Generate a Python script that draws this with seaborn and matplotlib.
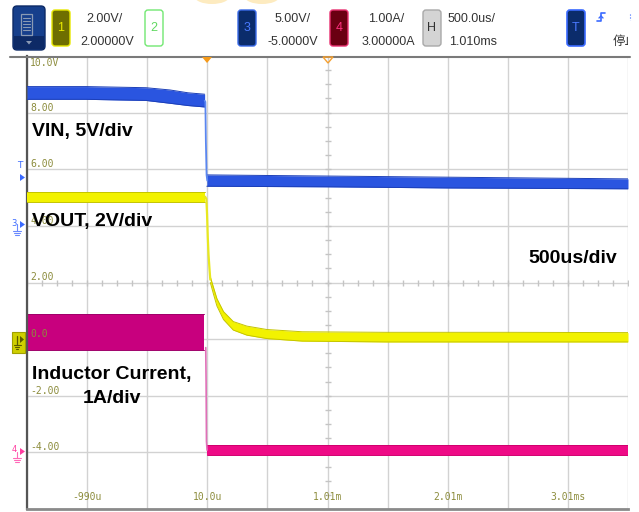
import numpy as np
import matplotlib
matplotlib.use("Agg")
import matplotlib.pyplot as plt
from matplotlib.patches import FancyBboxPatch, Rectangle, Polygon, Ellipse
import seaborn as sns

# ---------------- data (screen units = ch1 volts, time in microseconds) -------------
time_ticks_us = [-990, 10, 1010, 2010, 3010]
time_tick_labels = ["-990u", "10.0u", "1.01m", "2.01m", "3.01ms"]
level_ticks = [10, 8, 6, 4, 2, 0, -2, -4]
level_labels = ["10.0V", "8.00", "6.00", "4.00", "2.00", "0.0", "-2.00", "-4.00"]

# VIN (channel 3, blue)
vin_pre_t = [-1490, -1000, -500, -300, -150, -12]
vin_pre_hi = [8.92, 8.92, 8.88, 8.80, 8.70, 8.65]
vin_pre_lo = [8.47, 8.47, 8.43, 8.33, 8.25, 8.20]
vin_fall_t = [-12, -6, -2, 4, 10]
vin_fall_v = [8.42, 8.38, 7.0, 5.8, 5.6]
vin_post_t = [6, 500, 1000, 1500, 2000, 2500, 3000, 3510]
vin_post_hi = [5.80, 5.78, 5.76, 5.74, 5.72, 5.70, 5.68, 5.66]
vin_post_lo = [5.40, 5.39, 5.38, 5.36, 5.34, 5.33, 5.32, 5.31]

# VOUT (channel 1, yellow)
vout_pre_t = [-1490, -8]
vout_pre_hi = [5.20, 5.20]
vout_pre_lo = [4.85, 4.85]
vout_fall_t = [-8, 2, 8, 14, 20, 28, 35]
vout_fall_v = [5.03, 4.95, 4.4, 3.6, 3.0, 2.5, 2.1]
vout_post_t = [35, 62, 90, 145, 226, 339, 505, 800, 1500, 2500, 3510]
vout_post_hi = [2.20, 1.82, 1.43, 0.97, 0.62, 0.46, 0.34, 0.26, 0.24, 0.24, 0.23]
vout_post_lo = [2.00, 1.58, 1.17, 0.69, 0.32, 0.14, 0.02, -0.07, -0.10, -0.10, -0.10]

# Inductor current (channel 4, magenta)
il_pre_t = [-1490, -15]
il_pre_hi = [0.88, 0.88]
il_pre_lo = [-0.38, -0.38]
il_fall_t = [-3, 0, 3, 8]
il_fall_v = [-0.3, -1.5, -3.6, -3.92]
il_post_t = [8, 3510]
il_post_hi = [-3.75, -3.75]
il_post_lo = [-4.10, -4.10]

# ---------------- styling -------------
sns.set_theme(style="white")
plt.rcParams["font.family"] = ["Liberation Sans", "Noto Sans CJK SC", "DejaVu Sans"]

W, H = 639, 512
fig = plt.figure(figsize=(W / 100, H / 100), dpi=100)
fig.patch.set_facecolor("white")

x_left, x_right = 27, 628
y_top, y_bot = 56, 509
ax = fig.add_axes([x_left / W, 1 - y_bot / H, (x_right - x_left) / W, (y_bot - y_top) / H])
ax.set_xlim(-1490, 3510)
ax.set_ylim(-6, 10)
ax.set_facecolor("white")

ax.set_xticks(np.arange(-1490, 3511, 500))
ax.set_yticks(np.arange(-6, 10.01, 2))
ax.grid(True, color="#d2d2d2", lw=1.0)
ax.tick_params(length=0, labelbottom=False, labelleft=False)
for s in ["top", "right"]:
    ax.spines[s].set_visible(False)
ax.spines["left"].set_color("#555555")
ax.spines["left"].set_linewidth(1.6)
ax.spines["bottom"].set_color("#8a8a8a")
ax.spines["bottom"].set_linewidth(2.0)

# center graticule minor ticks
ax.plot(np.arange(-1490, 3511, 125), [2] * len(np.arange(-1490, 3511, 125)),
        ls="none", marker="|", ms=4, color="#c4c4c4", mew=1, zorder=1)
ax.plot([1010] * len(np.arange(-6, 10.01, 0.5)), np.arange(-6, 10.01, 0.5),
        ls="none", marker="_", ms=4, color="#c4c4c4", mew=1, zorder=1)

BLUE, BLUE_E, BLUE_F = "#2a55e0", "#1c3fb8", "#5a86f0"
YEL, YEL_E, YEL_F = "#f2f200", "#c4c400", "#e8e820"
MAG, MAG_E, MAG2, MAG_F = "#c8007e", "#a0006a", "#ee0a86", "#e070b8"


def band(t, hi, lo, fc, ec, z):
    ax.fill_between(t, lo, hi, color=fc, lw=0, zorder=z)
    sns.lineplot(x=t, y=hi, ax=ax, color=ec, lw=0.7, estimator=None, sort=False, zorder=z)
    sns.lineplot(x=t, y=lo, ax=ax, color=ec, lw=0.7, estimator=None, sort=False, zorder=z)


band(vin_pre_t, vin_pre_hi, vin_pre_lo, BLUE, BLUE_E, 3)
band(vin_post_t, vin_post_hi, vin_post_lo, BLUE, BLUE_E, 3)
sns.lineplot(x=vin_fall_t, y=vin_fall_v, ax=ax, color=BLUE_F, lw=1.3, estimator=None, sort=False, zorder=3)

band(vout_pre_t, vout_pre_hi, vout_pre_lo, YEL, YEL_E, 4)
band(vout_post_t, vout_post_hi, vout_post_lo, YEL, YEL_E, 4)
sns.lineplot(x=vout_fall_t, y=vout_fall_v, ax=ax, color=YEL_F, lw=1.6, estimator=None, sort=False, zorder=4)

band(il_pre_t, il_pre_hi, il_pre_lo, MAG, MAG_E, 2)
band(il_post_t, il_post_hi, il_post_lo, MAG2, "#d0006e", 2)
sns.lineplot(x=il_fall_t, y=il_fall_v, ax=ax, color=MAG_F, lw=1.2, estimator=None, sort=False, zorder=2)

# graticule labels
lab_col = "#8c8c3c"
for lv, lb in zip(level_ticks, level_labels):
    yy = 9.75 if lv == 10 else lv + 0.18
    ax.text(-1465, yy, lb, fontsize=7, color=lab_col, family="DejaVu Sans Mono",
            ha="left", va="center", zorder=6)
for tt, lb in zip(time_ticks_us, time_tick_labels):
    ax.text(tt, -5.58, lb, fontsize=7, color=lab_col, family="DejaVu Sans Mono",
            ha="center", va="center", zorder=6)

# ---------------- overlay in pixel coordinates -------------
ov = fig.add_axes([0, 0, 1, 1], facecolor="none")
ov.set_xlim(0, W)
ov.set_ylim(H, 0)
ov.axis("off")


def rbox(x0, y0, x1, y1, fc, ec, lw=1.0, r=3, z=5):
    p = FancyBboxPatch((x0, y0), x1 - x0, y1 - y0, boxstyle=f"round,pad=0,rounding_size={r}",
                       fc=fc, ec=ec, lw=lw, zorder=z)
    ov.add_patch(p)


# faint top blobs
ov.add_patch(Ellipse((212, -3), 34, 14, fc="#fdebc0", ec="none", zorder=1))
ov.add_patch(Ellipse((262, -3), 34, 14, fc="#fdebc0", ec="none", zorder=1))

# menu button
rbox(13, 6, 45, 50, "#163f8c", "#0d2a66", 1.0, r=4)
ov.add_patch(Rectangle((14, 36), 30, 13, fc="#0d2a66", ec="none", zorder=5))
ov.add_patch(Rectangle((21, 14), 11, 21, fc="none", ec="#8a9ab4", lw=0.9, zorder=6))
for yy in [18, 21, 24, 27, 30]:
    ov.plot([23, 30], [yy, yy], color="#8a9ab4", lw=0.8, zorder=6)
ov.add_patch(Polygon([[26, 41], [32, 41], [29, 44.5]], closed=True, fc="#8a9ab4", ec="none", zorder=6))

hdr_txt = "#333333"
# channel 1
rbox(52, 10, 70, 46, "#6e6e00", "#e8e800", 1.0)
ov.text(61, 28, "1", color="#e8e800", fontsize=9, ha="center", va="center", zorder=7)
ov.text(104, 22, "2.00V/", color=hdr_txt, fontsize=9, ha="center", va="baseline")
ov.text(107, 45, "2.00000V", color=hdr_txt, fontsize=9, ha="center", va="baseline")
# channel 2
rbox(145, 10, 163, 46, "white", "#72e872", 1.0)
ov.text(154, 28, "2", color="#60d860", fontsize=9, ha="center", va="center", zorder=7)
# channel 3
rbox(238, 10, 256, 46, "#0b2c6b", "#3a6ae8", 1.0)
ov.text(247, 28, "3", color="#4a7aff", fontsize=9, ha="center", va="center", zorder=7)
ov.text(293, 22, "5.00V/", color=hdr_txt, fontsize=9, ha="center", va="baseline")
ov.text(293, 45, "-5.0000V", color=hdr_txt, fontsize=9, ha="center", va="baseline")
# channel 4
rbox(330, 10, 348, 46, "#6a0012", "#e83070", 1.0)
ov.text(339, 28, "4", color="#ff3080", fontsize=9, ha="center", va="center", zorder=7)
ov.text(386, 22, "1.00A/", color=hdr_txt, fontsize=9, ha="center", va="baseline")
ov.text(388, 45, "3.00000A", color=hdr_txt, fontsize=9, ha="center", va="baseline")
# horizontal
rbox(423, 10, 441, 46, "#d4d4d4", "#a8a8a8", 1.0)
ov.text(432, 28, "H", color="#333333", fontsize=9, ha="center", va="center", zorder=7)
ov.text(448, 22, "500.0us/", color=hdr_txt, fontsize=9, ha="left", va="baseline")
ov.text(449, 45, "1.010ms", color=hdr_txt, fontsize=9, ha="left", va="baseline")
# trigger
rbox(567, 10, 585, 46, "#0b2c6b", "#3a6aff", 1.2)
ov.text(576, 28, "T", color="#4a7aff", fontsize=9, ha="center", va="center", zorder=7)
ov.plot([597, 601, 601, 605], [21, 21, 13, 13], color="#3a6aff", lw=1.2, zorder=6)
ov.plot([599, 601, 603], [18, 16, 18], color="#3a6aff", lw=1.0, zorder=6)
ov.text(613, 45, "停止", color=hdr_txt, fontsize=9, ha="left", va="baseline",
        family=["Noto Sans CJK SC", "DejaVu Sans"], zorder=6)
ov.plot([630, 630], [14, 20], color="#3a6aff", lw=0.8, ls=":", zorder=6)
ov.add_patch(Rectangle((628, 30), 12, 22, fc="white", ec="none", zorder=8))

# header separator
ov.plot([10, 630], [56.5, 56.5], color="#7a7a7a", lw=1.5, zorder=5)

# top markers
ov.add_patch(Polygon([[202, 57], [212, 57], [207, 63]], closed=True, fc="#f59a1a", ec="none", zorder=7))
ov.add_patch(Polygon([[323, 57], [333, 57], [328, 63]], closed=True, fc="none", ec="#f5a030", lw=1.0, zorder=7))

# left markers
ov.text(20, 166, "T", color="#3a6aff", fontsize=6.5, ha="center", va="center", family="DejaVu Sans")
ov.add_patch(Polygon([[20, 174], [20, 181], [25, 177.5]], closed=True, fc="#3a6aff", ec="none", zorder=7))
# ch3 ground
ov.text(14, 224, "3", color="#3a6aff", fontsize=6, ha="center", va="center", family="DejaVu Sans")
ov.add_patch(Polygon([[20, 221], [20, 228], [25, 224.5]], closed=True, fc="#3a6aff", ec="none", zorder=7))
ov.plot([17, 17], [224, 231], color="#6a8aff", lw=0.8)
for i, hw in enumerate([4, 2.8, 1.6]):
    ov.plot([17 - hw, 17 + hw], [231 + i * 2, 231 + i * 2], color="#6a8aff", lw=0.8)
# ch1 ground
ov.add_patch(Rectangle((12, 332), 13, 21, fc="#cfcf00", ec="#a0a000", lw=0.8, zorder=7))
ov.plot([17, 17], [336, 345], color="#5a5a00", lw=0.9, zorder=8)
for i, hw in enumerate([3.5, 2.3, 1.2]):
    ov.plot([17 - hw, 17 + hw], [345 + i * 2, 345 + i * 2], color="#5a5a00", lw=0.8, zorder=8)
ov.add_patch(Polygon([[20, 336], [20, 343], [24, 339.5]], closed=True, fc="#5a5a00", ec="none", zorder=8))
# ch4 ground
ov.text(14, 450, "4", color="#ff3da0", fontsize=6, ha="center", va="center", family="DejaVu Sans")
ov.add_patch(Polygon([[20, 448], [20, 455], [25, 451.5]], closed=True, fc="#ff3da0", ec="none", zorder=7))
ov.plot([17, 17], [452, 458], color="#ff6ab8", lw=0.8)
for i, hw in enumerate([4, 2.8, 1.6]):
    ov.plot([17 - hw, 17 + hw], [458 + i * 2, 458 + i * 2], color="#ff6ab8", lw=0.8)

# annotations
ann = dict(color="black", fontsize=14, fontweight="bold", va="baseline", zorder=9)
ov.text(32, 136, "VIN, 5V/div", ha="left", **ann)
ov.text(32, 226, "VOUT, 2V/div", ha="left", **ann)
ov.text(528, 263, "500us/div", ha="left", **ann)
ov.text(32, 379, "Inductor Current,", ha="left", **ann)
ov.text(112, 403, "1A/div", ha="center", **ann)

fig.savefig("out.png", dpi=100)
